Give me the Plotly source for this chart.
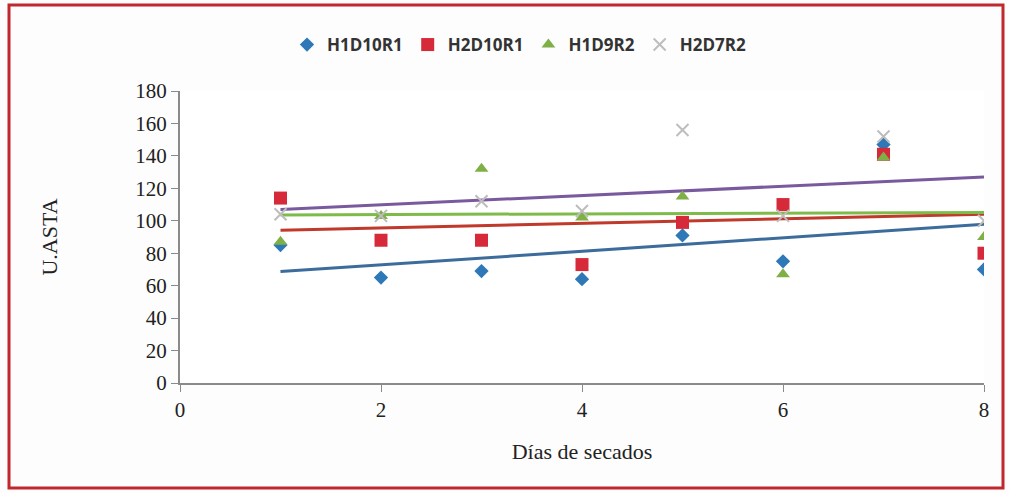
import numpy as np
import plotly.graph_objects as go

dias = [1, 2, 3, 4, 5, 6, 7, 8]
h1d10r1 = [85, 65, 69, 64, 91, 75, 147, 70]
h2d10r1 = [114, 88, 88, 73, 99, 110, 141, 80]
h1d9r2 = [87, 103, 132, 102, 115, 67, 139, 90]
h2d7r2 = [104, 103, 112, 106, 156, 103, 152, 100]

series = [
    ("H1D10R1", h1d10r1, dict(symbol="diamond", size=11, color="#2e78b8"), "#3b6c9c"),
    ("H2D10R1", h2d10r1, dict(symbol="square", size=13, color="#d62a3a"), "#c0392b"),
    ("H1D9R2", h1d9r2, dict(symbol="triangle-up", size=12, color="#7fb046"), "#7fbb4a"),
    ("H2D7R2", h2d7r2, dict(symbol="x-thin", size=12, color="#bdbdbd",
                            line=dict(width=2, color="#bdbdbd")), "#7a5a9e"),
]

fig = go.Figure()
x = np.array(dias, dtype=float)
for name, vals, mk, lc in series:
    m, b = np.polyfit(x, np.array(vals, dtype=float), 1)
    xs = [x.min(), x.max()]
    fig.add_trace(go.Scatter(x=xs, y=[m * v + b for v in xs], mode="lines",
                             line=dict(color=lc, width=3), showlegend=False,
                             hoverinfo="skip"))
for name, vals, mk, lc in series:
    fig.add_trace(go.Scatter(x=dias, y=vals, mode="markers", name=name, marker=mk))

L, R, T, B = 180, 25, 91, 110
W, H = 1009, 493
pw, ph = W - L - R, H - T - B

def px_to_paper_x(p):
    return (p - L) / pw

def px_to_paper_y(p):
    return (H - B - p) / ph

serif = "Liberation Serif"
fig.update_layout(
    width=W, height=H,
    margin=dict(l=L, r=R, t=T, b=B),
    paper_bgcolor="#fdfdfd", plot_bgcolor="#ffffff",
    showlegend=True,
    legend=dict(orientation="h", x=px_to_paper_x(519), y=px_to_paper_y(45),
                xanchor="center", yanchor="middle",
                font=dict(family="Open Sans", size=17, color="#333333", weight="bold"),
                itemwidth=30, tracegroupgap=0, bgcolor="rgba(0,0,0,0)"),
    xaxis=dict(range=[0, 8], tickvals=[0, 2, 4, 6, 8], showgrid=False, zeroline=False,
               showline=True, linecolor="#8a8a8a", linewidth=2,
               ticks="outside", ticklen=7, tickcolor="#8a8a8a",
               tickfont=dict(family=serif, size=21, color="#222222"),
               title=dict(text="Días de secados", standoff=22,
                          font=dict(family=serif, size=22, color="#222222"))),
    yaxis=dict(range=[0, 180], dtick=20, showgrid=False, zeroline=False,
               showline=True, linecolor="#8a8a8a", linewidth=2,
               ticks="outside", ticklen=7, tickcolor="#8a8a8a",
               tickfont=dict(family=serif, size=21, color="#222222"),
               title=dict(text="U.ASTA", standoff=72,
                          font=dict(family=serif, size=22, color="#222222"))),
    shapes=[dict(type="rect", xref="paper", yref="paper",
                 x0=px_to_paper_x(9), x1=px_to_paper_x(1003),
                 y0=px_to_paper_y(488), y1=px_to_paper_y(5),
                 line=dict(color="#c0282d", width=3), layer="below")],
)

fig.write_html("out.html", config={"displayModeBar": False},
               post_script="document.body.style.margin='0';document.body.style.overflow='hidden';")
